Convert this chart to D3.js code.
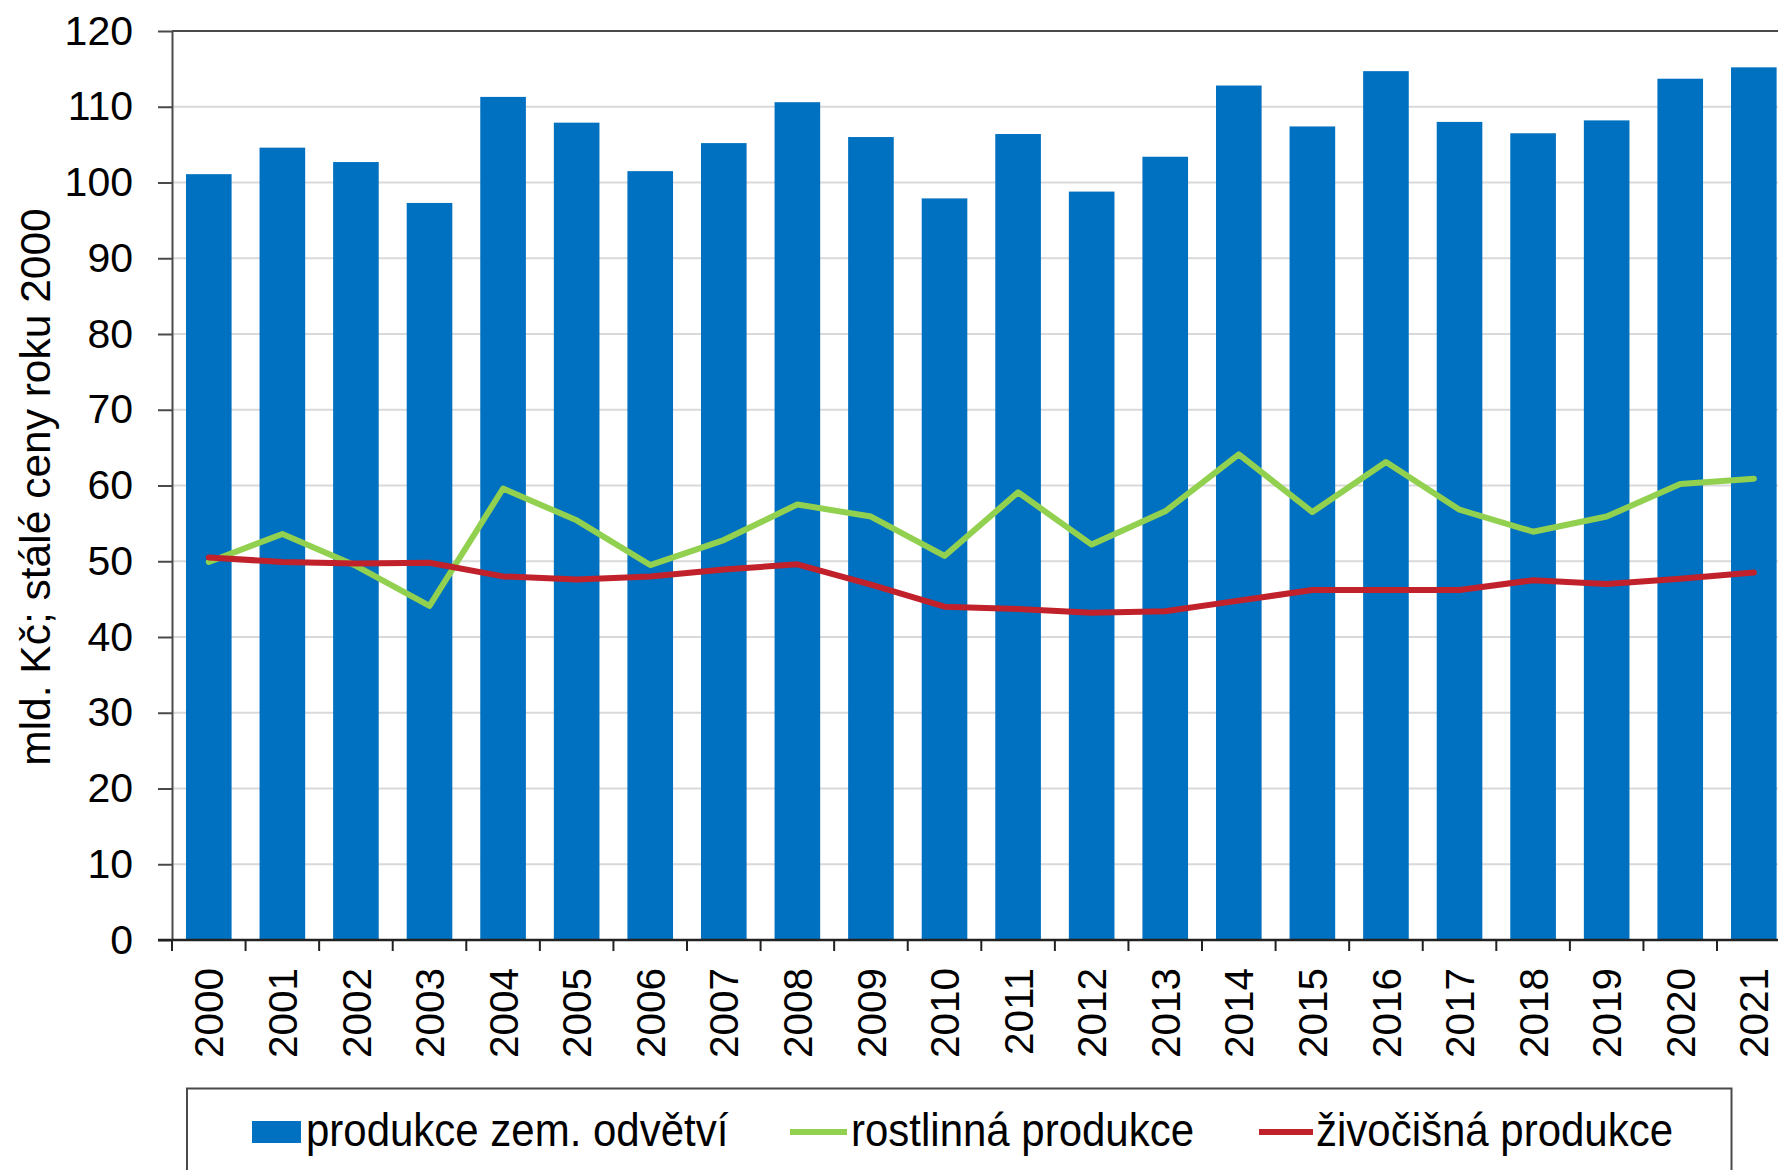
<!DOCTYPE html>
<html><head><meta charset="utf-8">
<script src="https://cdn.jsdelivr.net/npm/d3@7/dist/d3.min.js"></script>
<style>
body{margin:0;background:#fff;overflow:hidden;}
svg{display:block;font-family:"Liberation Sans",Arial,Helvetica,sans-serif;}
</style>
</head><body>
<svg id="chart" width="1778" height="1170"></svg>
<script>
const years = ["2000","2001","2002","2003","2004","2005","2006","2007","2008","2009","2010",
               "2011","2012","2013","2014","2015","2016","2017","2018","2019","2020","2021"];
const totalProduction = [101.1,104.6,102.7,97.3,111.3,107.9,101.5,105.2,110.6,106.0,97.9,
                         106.4,98.8,103.4,112.8,107.4,114.7,108.0,106.5,108.2,113.7,115.2];
const cropProduction = [49.9,53.6,49.4,44.1,59.6,55.4,49.5,52.8,57.5,55.9,50.7,
                        59.1,52.2,56.6,64.1,56.5,63.1,56.8,53.9,55.9,60.2,60.9];
const animalProduction = [50.5,49.9,49.7,49.8,48.0,47.6,48.0,48.9,49.6,46.9,44.0,
                          43.7,43.2,43.4,44.8,46.2,46.2,46.2,47.5,47.0,47.7,48.5];
const yTicks = [0,10,20,30,40,50,60,70,80,90,100,110,120];
const seriesNames = ["produkce zem. odvětví","rostlinná produkce","živočišná produkce"];
const yTitle = "mld. Kč; stálé ceny roku 2000";

(function () {
const colBar = "#0070c0", colCrop = "#92d050", colAnimal = "#c0212b";

const svg = d3.select("#chart");
const pLeft = 172, pRight = 1790.6, pTop = 31, pBottom = 940;

const x = d3.scaleBand().domain(years).range([pLeft, pRight]).paddingInner(0.38).paddingOuter(0.19);
const y = d3.scaleLinear().domain([0, 120]).range([pBottom, pTop]);

// gridlines
svg.append("g").selectAll("line").data(yTicks.filter(t => t > 0 && t < 120)).join("line")
  .attr("x1", pLeft).attr("x2", pRight)
  .attr("y1", d => y(d)).attr("y2", d => y(d))
  .attr("stroke", "#d9d9d9").attr("stroke-width", 2);
// top border
svg.append("line").attr("x1", pLeft).attr("x2", pRight).attr("y1", y(120)).attr("y2", y(120))
  .attr("stroke", "#4a4a4a").attr("stroke-width", 2);

// bars
svg.append("g").selectAll("rect").data(years).join("rect")
  .attr("x", d => x(d)).attr("width", x.bandwidth())
  .attr("y", (d, i) => y(totalProduction[i]))
  .attr("height", (d, i) => y(0) - y(totalProduction[i]))
  .attr("fill", colBar);

// lines
const lineGen = d3.line().x((d, i) => x(years[i]) + x.bandwidth() / 2).y(d => y(d));
svg.append("path").datum(cropProduction).attr("d", lineGen)
  .attr("fill", "none").attr("stroke", colCrop).attr("stroke-width", 6)
  .attr("stroke-linejoin", "round").attr("stroke-linecap", "round");
svg.append("path").datum(animalProduction).attr("d", lineGen)
  .attr("fill", "none").attr("stroke", colAnimal).attr("stroke-width", 6)
  .attr("stroke-linejoin", "round").attr("stroke-linecap", "round");

// y axis
const yAxis = svg.append("g").attr("transform", `translate(${pLeft},0)`)
  .call(d3.axisLeft(y).tickValues(yTicks).tickSize(14).tickSizeOuter(0).tickPadding(25));
yAxis.select(".domain").attr("stroke", "#4a4a4a").attr("stroke-width", 2);
yAxis.selectAll(".tick line").attr("stroke", "#4a4a4a").attr("stroke-width", 2);
yAxis.selectAll(".tick text").attr("font-size", 41).attr("fill", "#000")
  .attr("font-family", "Liberation Sans, Arial, sans-serif");

// x axis line
svg.append("line").attr("x1", pLeft - 14).attr("x2", pRight).attr("y1", y(0)).attr("y2", y(0))
  .attr("stroke", "#222").attr("stroke-width", 2.5);
// x ticks at band boundaries
const gap = (x.step() - x.bandwidth()) / 2;
const bounds = years.map(d => x(d) - gap).concat([x(years[years.length - 1]) + x.bandwidth() + gap]);
svg.append("g").selectAll("line").data(bounds).join("line")
  .attr("x1", d => d).attr("x2", d => d).attr("y1", y(0)).attr("y2", y(0) + 11)
  .attr("stroke", "#222").attr("stroke-width", 2);
// x labels
svg.append("g").selectAll("text").data(years).join("text")
  .attr("transform", d => `translate(${x(d) + x.bandwidth() / 2},968) rotate(-90)`)
  .attr("text-anchor", "end").attr("dy", "0.36em")
  .attr("font-size", 40.5).attr("fill", "#000").text(d => d);

// y title
svg.append("text")
  .attr("transform", `translate(50,487) rotate(-90)`)
  .attr("text-anchor", "middle")
  .attr("font-size", 42.5).attr("fill", "#000").text(yTitle);

// legend
svg.append("rect").attr("x", 187).attr("y", 1088.5).attr("width", 1544.5).attr("height", 120)
  .attr("fill", "#fff").attr("stroke", "#4a4a4a").attr("stroke-width", 2);
const lg = svg.append("g");
lg.append("rect").attr("x", 252).attr("y", 1121).attr("width", 49).attr("height", 22).attr("fill", colBar);
lg.append("text").attr("transform", "translate(306,1146) scale(1,1.1)").attr("font-size", 42).attr("fill", "#000").text(seriesNames[0]);
lg.append("line").attr("x1", 790).attr("x2", 847).attr("y1", 1132).attr("y2", 1132)
  .attr("stroke", colCrop).attr("stroke-width", 6);
lg.append("text").attr("transform", "translate(851,1146) scale(1,1.1)").attr("font-size", 42).attr("fill", "#000").text(seriesNames[1]);
lg.append("line").attr("x1", 1259).attr("x2", 1313).attr("y1", 1132).attr("y2", 1132)
  .attr("stroke", colAnimal).attr("stroke-width", 6);
lg.append("text").attr("transform", "translate(1316,1146) scale(1,1.1)").attr("font-size", 42).attr("fill", "#000").text(seriesNames[2]);
})();
</script>
</body></html>
